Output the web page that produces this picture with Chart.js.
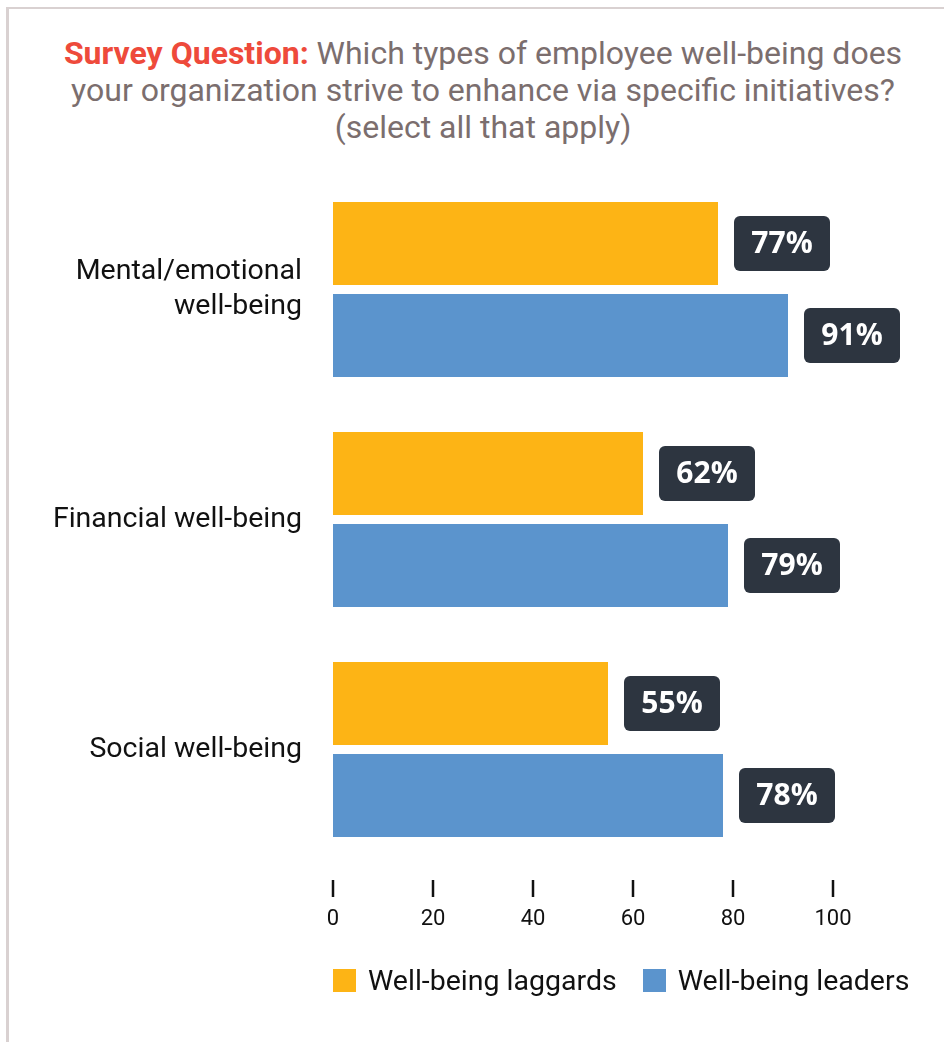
<!DOCTYPE html>
<html>
<head>
<meta charset="utf-8">
<script src="https://cdn.jsdelivr.net/npm/chart.js@4"></script>
<style>
    html, body {
        margin: 0;
        padding: 0;
        background: #fff;
        width: 944px;
        height: 1042px;
        overflow: hidden;
        font-family: Roboto, sans-serif;
    }
    .frame {
        position: absolute;
        left: 6px;
        top: 7px;
        right: -20px;
        bottom: -20px;
        border-left: 3px solid #d9d1d1;
        border-top: 2px solid #d9d1d1;
    }
    .title {
        position: absolute;
        left: 3px;
        top: 35px;
        width: 960px;
        text-align: center;
        font-size: 32px;
        line-height: 37px;
        color: #7b6e6e;
    }
    .title b {
        color: #ee4a3b;
    }
    #chart {
        position: absolute;
        left: 0;
        top: 0;
    }
    .legend {
        position: absolute;
        left: 333px;
        top: 964px;
        display: flex;
        align-items: center;
        font-size: 28.5px;
        color: #111;
        white-space: nowrap;
    }
    .legend-item {
        display: flex;
        align-items: center;
        margin-right: 26px;
    }
    .legend-box {
        width: 23px;
        height: 23px;
        margin-right: 12px;
    }
</style>
</head>
<body>
<div class="frame"></div>
<div class="title">
    <b>Survey Question:</b> Which types of employee well-being does<br>
    your organization strive to enhance via specific initiatives?<br>
    (select all that apply)
</div>
<canvas id="chart" width="944" height="1042"></canvas>
<div class="legend" id="legend"></div>

<script>
// 数据
const categories = [['Mental/emotional', 'well-being'], 'Financial well-being', 'Social well-being'];
const seriesNames = ['Well-being laggards', 'Well-being leaders'];
const laggards = [77, 62, 55];
const leaders = [91, 79, 78];
const xTicks = [0, 20, 40, 60, 80, 100];

const colors = ['#fdb415', '#5b94cd'];

// 坐标轴下方的短刻度线
const tickMarks = {
    id: 'tickMarks',
    afterDraw(chart) {
        const ctx = chart.ctx;
        const scale = chart.scales.x;
        ctx.save();
        ctx.strokeStyle = '#111';
        ctx.lineWidth = 2.5;
        scale.ticks.forEach((t, i) => {
            const x = scale.getPixelForTick(i);
            ctx.beginPath();
            ctx.moveTo(x, 880);
            ctx.lineTo(x, 897);
            ctx.stroke();
        });
        ctx.restore();
    }
};

// 柱子右侧的数值标签
const valueBadges = {
    id: 'valueBadges',
    afterDatasetsDraw(chart) {
        const ctx = chart.ctx;
        ctx.save();
        ctx.font = 'bold 30px "Open Sans"';
        ctx.textAlign = 'center';
        ctx.textBaseline = 'middle';
        chart.data.datasets.forEach((ds, di) => {
            chart.getDatasetMeta(di).data.forEach((bar, i) => {
                const w = 96, h = 55;
                const left = bar.x + 16;
                const top = bar.y - h / 2;
                ctx.fillStyle = '#2d3540';
                ctx.beginPath();
                ctx.roundRect(left, top, w, h, 6);
                ctx.fill();
                ctx.fillStyle = '#fff';
                ctx.fillText(ds.data[i] + '%', left + w / 2, bar.y + 1);
            });
        });
        ctx.restore();
    }
};

const chart = new Chart(document.getElementById('chart'), {
    type: 'bar',
    data: {
        labels: categories,
        datasets: [
            { label: seriesNames[0], data: laggards, backgroundColor: colors[0] },
            { label: seriesNames[1], data: leaders, backgroundColor: colors[1] }
        ]
    },
    options: {
        indexAxis: 'y',
        responsive: false,
        animation: false,
        devicePixelRatio: 1,
        layout: {
            padding: { top: 174.5, right: 111, bottom: 0, left: 0 }
        },
        datasets: {
            bar: { categoryPercentage: 0.8, barPercentage: 0.9 }
        },
        plugins: {
            legend: { display: false },
            tooltip: { enabled: false }
        },
        scales: {
            x: {
                min: 0,
                max: 100,
                afterBuildTicks(axis) {
                    axis.ticks = xTicks.map(v => ({ value: v }));
                },
                afterFit(axis) {
                    axis.height = 177.5;
                },
                grid: { display: false, drawTicks: false },
                border: { display: false },
                ticks: {
                    padding: 42,
                    color: '#111',
                    font: { family: 'Roboto', size: 22 }
                }
            },
            y: {
                afterFit(axis) {
                    axis.width = 333;
                },
                grid: { display: false, drawTicks: false },
                border: { display: false },
                ticks: {
                    padding: 31,
                    color: '#111',
                    font: { family: 'Roboto', size: 28.5, lineHeight: 1.23 }
                }
            }
        }
    },
    plugins: [tickMarks, valueBadges]
});

// 图例
const legendEl = document.getElementById('legend');
legendEl.innerHTML = chart.data.datasets.map(ds => `
    <div class="legend-item">
        <span class="legend-box" style="background:${ds.backgroundColor}"></span>
        <span>${ds.label}</span>
    </div>
`).join('');
</script>
</body>
</html>
